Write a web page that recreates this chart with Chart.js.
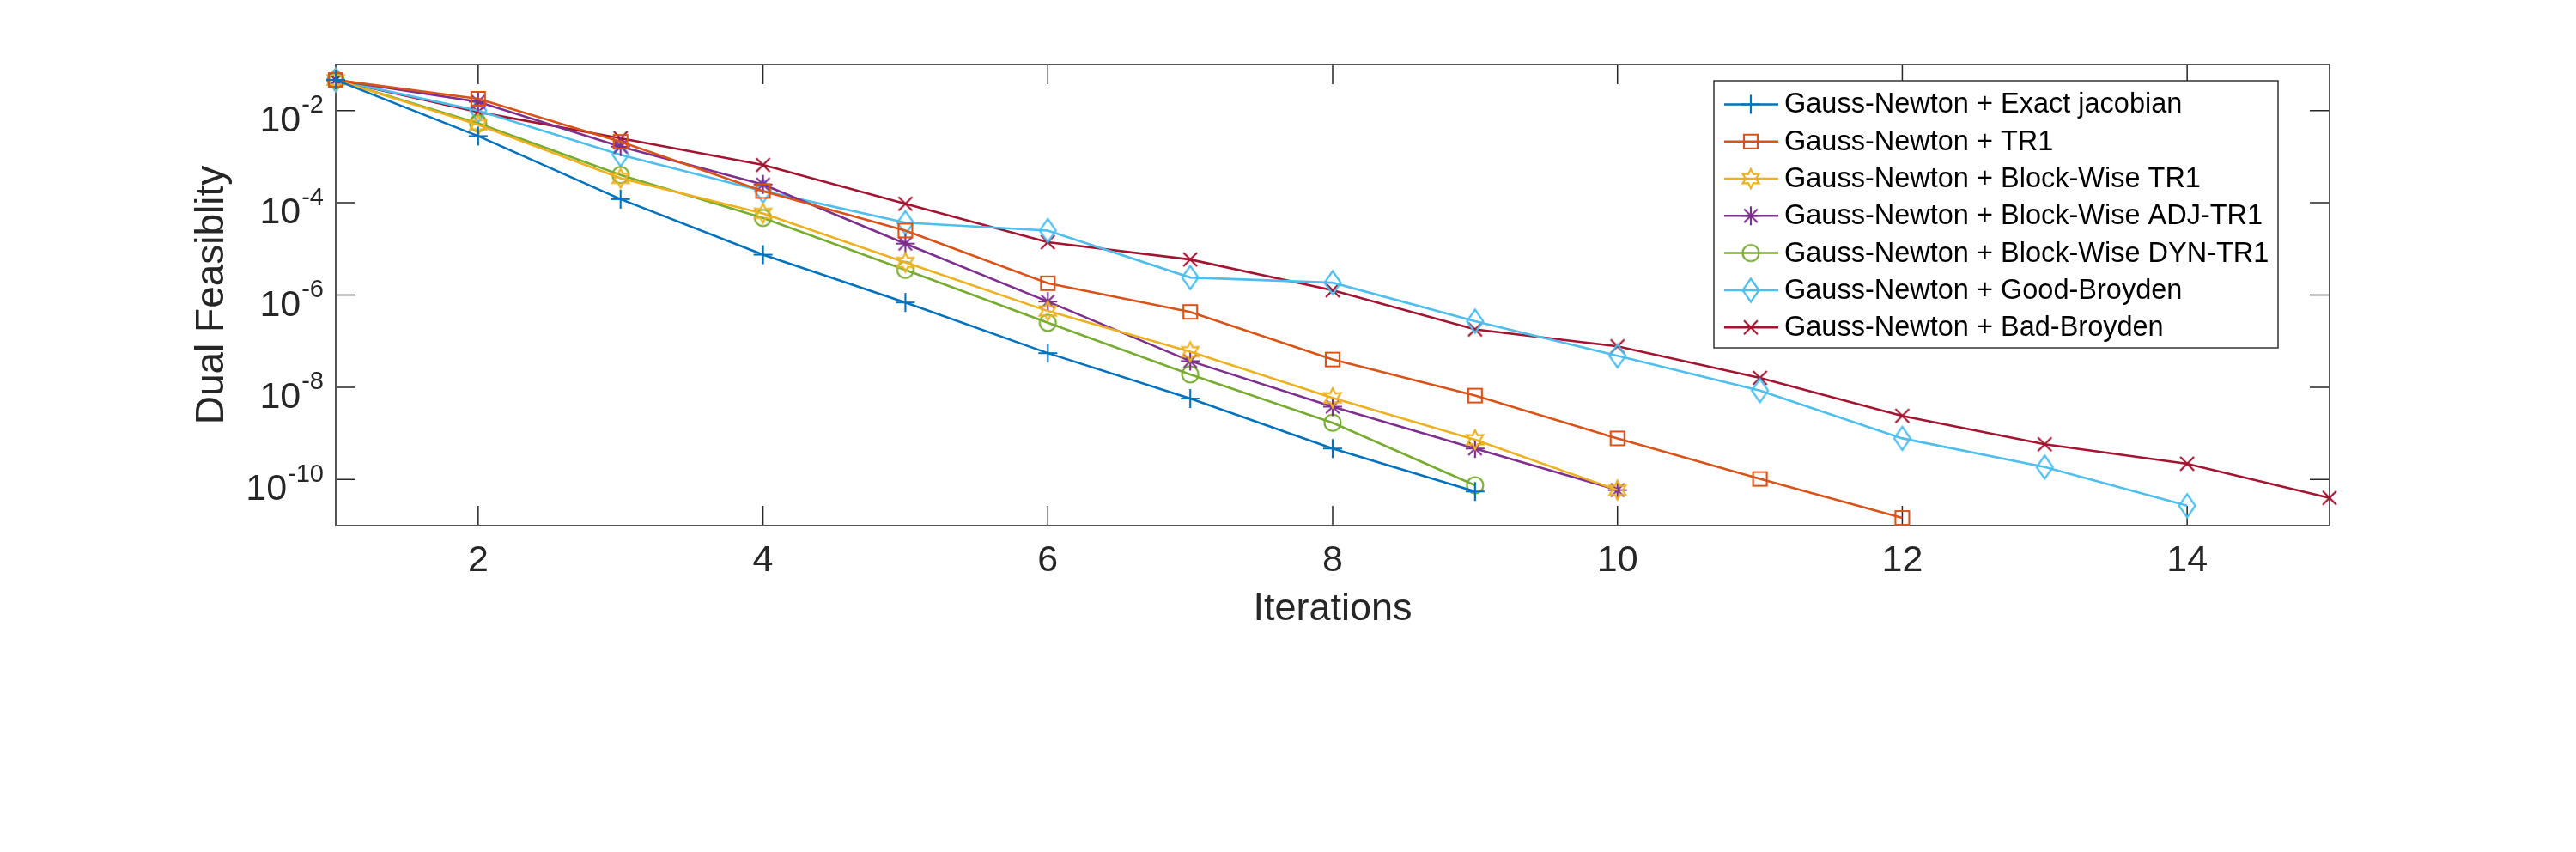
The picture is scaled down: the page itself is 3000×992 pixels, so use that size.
<!DOCTYPE html>
<html>
<head>
<meta charset="utf-8">
<script src="https://cdn.jsdelivr.net/npm/chart.js@4.4.1/dist/chart.umd.min.js"></script>
<style>
  html, body { margin: 0; padding: 0; background: #fff; }
  #wrap { width: 3000px; height: 992px; }
</style>
</head>
<body>
<div id="wrap"><canvas id="dualChart" width="3000" height="992"></canvas></div>
<script>
// iteration numbers on the x axis
const iterations = [1, 2, 3, 4, 5, 6, 7, 8, 9, 10, 11, 12, 13, 14, 15];

// dual feasibility per iteration
const exactJacobian = [0.046, 2.8e-3, 1.2e-4, 7.5e-6, 6.9e-7, 5.5e-8, 5.7e-9, 4.7e-10, 5.5e-11];
const tr1 = [0.046, 1.8e-2, 2.1e-3, 1.8e-4, 2.5e-5, 1.8e-6, 4.3e-7, 4.0e-8, 6.6e-9, 7.8e-10, 1.03e-10, 1.47e-11];
const blockTr1 = [0.046, 4.9e-3, 3.4e-4, 5.9e-5, 5.1e-6, 4.5e-7, 5.9e-8, 5.9e-9, 7.3e-10, 5.9e-11];
const blockAdjTr1 = [0.046, 1.55e-2, 1.65e-3, 2.5e-4, 1.3e-5, 7.2e-7, 3.7e-8, 3.8e-9, 4.7e-10, 5.9e-11];
const blockDynTr1 = [0.046, 5.3e-3, 4.0e-4, 4.7e-5, 3.5e-6, 2.5e-7, 1.9e-8, 1.7e-9, 7.5e-11];
const goodBroyden = [0.046, 1.0e-2, 1.1e-3, 1.8e-4, 3.7e-5, 2.5e-5, 2.4e-6, 1.85e-6, 2.7e-7, 4.8e-8, 8.5e-9, 7.8e-10, 1.86e-10, 2.7e-11];
const badBroyden = [0.046, 9.3e-3, 2.5e-3, 6.6e-4, 9.5e-5, 1.4e-5, 5.9e-6, 1.27e-6, 1.8e-7, 7.7e-8, 1.6e-8, 2.4e-9, 5.8e-10, 2.2e-10, 4.0e-11];

const seriesNames = [
  "Gauss-Newton + Exact jacobian",
  "Gauss-Newton + TR1",
  "Gauss-Newton + Block-Wise TR1",
  "Gauss-Newton + Block-Wise ADJ-TR1",
  "Gauss-Newton + Block-Wise DYN-TR1",
  "Gauss-Newton + Good-Broyden",
  "Gauss-Newton + Bad-Broyden",
];
const seriesValues = [exactJacobian, tr1, blockTr1, blockAdjTr1, blockDynTr1, goodBroyden, badBroyden];
const seriesColors = ["#0072BD", "#D95319", "#EDB120", "#7E2F8E", "#77AC30", "#4DBEEE", "#A2142F"];
const seriesMarkers = ["plus", "square", "hexagram", "asterisk", "circle", "diamond", "cross"];

const xTicks = [2, 4, 6, 8, 10, 12, 14];
const yTicks = [1e-10, 1e-8, 1e-6, 1e-4, 1e-2];

const FONT = '"Liberation Sans", Arial, Helvetica, sans-serif';
Chart.defaults.font.family = FONT;
Chart.defaults.color = "#262626";

// matlab-ish open markers as little canvases
function makeMarker(kind, color) {
  const c = document.createElement("canvas");
  c.width = 40;
  c.height = 40;
  const g = c.getContext("2d");
  g.translate(20, 20);
  g.strokeStyle = color;
  g.lineWidth = 2.2;
  g.beginPath();
  if (kind === "plus") {
    g.moveTo(-11, 0); g.lineTo(11, 0);
    g.moveTo(0, -11); g.lineTo(0, 11);
  } else if (kind === "square") {
    g.rect(-8, -8, 16, 16);
  } else if (kind === "hexagram") {
    for (let i = 0; i < 12; i++) {
      const r = i % 2 ? 6 : 11;
      const a = -Math.PI / 2 + (i * Math.PI) / 6;
      if (i === 0) g.moveTo(r * Math.cos(a), r * Math.sin(a));
      else g.lineTo(r * Math.cos(a), r * Math.sin(a));
    }
    g.closePath();
  } else if (kind === "asterisk") {
    for (let i = 0; i < 4; i++) {
      const a = (i * Math.PI) / 4;
      g.moveTo(-11 * Math.cos(a), -11 * Math.sin(a));
      g.lineTo(11 * Math.cos(a), 11 * Math.sin(a));
    }
  } else if (kind === "circle") {
    g.arc(0, 0, 9.5, 0, Math.PI * 2);
  } else if (kind === "diamond") {
    g.moveTo(0, -13.5); g.lineTo(9.5, 0); g.lineTo(0, 13.5); g.lineTo(-9.5, 0);
    g.closePath();
  } else if (kind === "cross") {
    g.moveTo(-8, -8); g.lineTo(8, 8);
    g.moveTo(8, -8); g.lineTo(-8, 8);
  }
  g.stroke();
  return c;
}

const markerImages = seriesMarkers.map((m, i) => makeMarker(m, seriesColors[i]));

// box around the axes, inward ticks on all four sides, and 10^n labels
const axesBox = {
  id: "axesBox",
  beforeDatasetsDraw(chart) {
    const { ctx, chartArea: a, scales } = chart;
    const len = 23;
    ctx.save();
    ctx.strokeStyle = "#262626";
    ctx.lineWidth = 1.5;
    ctx.beginPath();
    scales.x.ticks.forEach(t => {
      const px = scales.x.getPixelForValue(t.value);
      ctx.moveTo(px, a.bottom); ctx.lineTo(px, a.bottom - len);
      ctx.moveTo(px, a.top); ctx.lineTo(px, a.top + len);
    });
    scales.y.ticks.forEach(t => {
      const py = scales.y.getPixelForValue(t.value);
      ctx.moveTo(a.left, py); ctx.lineTo(a.left + len, py);
      ctx.moveTo(a.right, py); ctx.lineTo(a.right - len, py);
    });
    ctx.stroke();
    ctx.strokeStyle = "#555";
    ctx.lineWidth = 2;
    ctx.strokeRect(a.left, a.top, a.right - a.left, a.bottom - a.top);

    // power-of-ten labels with a raised exponent
    ctx.fillStyle = "#262626";
    ctx.textBaseline = "alphabetic";
    ctx.textAlign = "left";
    const rightEdge = a.left - 14;
    scales.y.ticks.forEach(t => {
      const py = scales.y.getPixelForValue(t.value);
      const exp = String(Math.round(Math.log10(t.value)));
      ctx.font = "29px " + FONT;
      const ew = ctx.measureText(exp).width;
      const ex = rightEdge - ew;
      ctx.fillText(exp, ex, py + 2.5);
      ctx.font = "43px " + FONT;
      const bw = ctx.measureText("10").width;
      ctx.fillText("10", ex - 1 - bw, py + 24);
    });
    ctx.restore();
  },
};

// legend in the upper right corner of the axes, line sample + marker
const boxLegend = {
  id: "boxLegend",
  afterDraw(chart) {
    const { ctx, chartArea: a } = chart;
    const right = a.right - 60;
    const top = a.top + 19;
    const w = 657;
    const rowH = 43.3;
    const h = 311;
    const left = right - w;
    ctx.save();
    ctx.fillStyle = "#fff";
    ctx.fillRect(left, top, w, h);
    ctx.strokeStyle = "#333";
    ctx.lineWidth = 1.5;
    ctx.strokeRect(left, top, w, h);
    ctx.font = "32.5px " + FONT;
    ctx.textBaseline = "middle";
    chart.data.datasets.forEach((ds, i) => {
      const cy = top + 27.4 + i * rowH;
      ctx.strokeStyle = ds.borderColor;
      ctx.lineWidth = 2.5;
      ctx.beginPath();
      ctx.moveTo(left + 12, cy);
      ctx.lineTo(left + 75, cy);
      ctx.stroke();
      const img = ds.pointStyle;
      ctx.drawImage(img, left + 43 - img.width / 2, cy - img.height / 2);
      ctx.fillStyle = "#000";
      ctx.fillText(ds.label, left + 82, cy + 1);
    });
    ctx.restore();
  },
};

const datasets = seriesValues.map((vals, i) => ({
  label: seriesNames[i],
  data: vals.map((v, k) => ({ x: iterations[k], y: v })),
  borderColor: seriesColors[i],
  backgroundColor: seriesColors[i],
  borderWidth: 2.6,
  pointStyle: markerImages[i],
  pointRadius: 10,
  tension: 0,
  clip: false,
}));

new Chart(document.getElementById("dualChart"), {
  type: "line",
  data: { datasets },
  options: {
    responsive: false,
    animation: false,
    devicePixelRatio: 1,
    layout: { padding: { left: 0, top: 75, right: 287, bottom: 0 } },
    plugins: {
      legend: { display: false },
      tooltip: { enabled: false },
    },
    scales: {
      x: {
        type: "linear",
        position: "bottom",
        min: 1,
        max: 15,
        grid: { display: false, drawTicks: false },
        border: { display: false },
        afterBuildTicks: s => { s.ticks = xTicks.map(v => ({ value: v })); },
        afterFit: s => { s.height = 380; },
        ticks: {
          autoSkip: false,
          maxRotation: 0,
          padding: 15,
          color: "#262626",
          font: { size: 43 },
        },
        title: {
          display: true,
          text: "Iterations",
          color: "#262626",
          font: { size: 45 },
          padding: { top: 0, bottom: 255 },
        },
      },
      y: {
        type: "logarithmic",
        min: 1e-11,
        max: 1e-1,
        grid: { display: false, drawTicks: false },
        border: { display: false },
        afterBuildTicks: s => { s.ticks = yTicks.map(v => ({ value: v })); },
        afterFit: s => { s.width = 391; },
        ticks: { display: false },
        title: {
          display: true,
          text: "Dual Feasiblity",
          color: "#262626",
          font: { size: 46 },
          padding: { top: 220, bottom: 0 },
        },
      },
    },
  },
  plugins: [axesBox, boxLegend],
});
</script>
</body>
</html>
